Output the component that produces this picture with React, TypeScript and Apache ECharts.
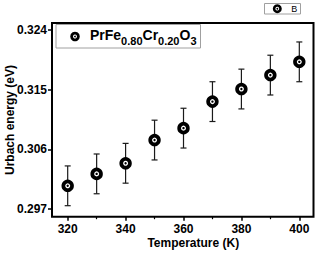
import React, { useEffect, useRef } from "react";
import * as echarts from "echarts";

const temperatures = [320, 330, 340, 350, 360, 370, 380, 390, 400];
const urbachEnergy = [0.3005, 0.3023, 0.3039, 0.3074, 0.3092, 0.3132, 0.3151, 0.3172, 0.3192];
const errorValues = [0.003, 0.003, 0.003, 0.003, 0.003, 0.003, 0.003, 0.003, 0.003];
const yTickValues = [0.297, 0.306, 0.315, 0.324];
const xTickValues = [320, 340, 360, 380, 400];
const xMinorTickValues = [330, 350, 370, 390];
const xAxisTitle = "Temperature (K)";
const yAxisTitle = "Urbach energy (eV)";
const legendParts = [
  ["m", "PrFe"],
  ["s", "0.80"],
  ["m", "Cr"],
  ["s", "0.20"],
  ["m", "O"],
  ["s", "3"],
];
const legend2Label = "B";

const FONT = "'Liberation Sans', Arial, Helvetica, sans-serif";

export default function App() {
  const ref = useRef<HTMLDivElement>(null);

  useEffect(() => {
    if (!ref.current) return;
    const chart = echarts.init(ref.current, null, { renderer: "svg" });

    const xMin = 314.58;
    const xMax = 404.9;
    const yMin = 0.29584;
    const yMax = 0.32506;

    const errData = temperatures.map((t, i) => [
      t,
      urbachEnergy[i] - errorValues[i],
      urbachEnergy[i] + errorValues[i],
    ]);
    const pts = temperatures.map((t, i) => [t, urbachEnergy[i]]);

    const richText = legendParts.map(([k, s]) => `{${k}|${s}}`).join("");

    chart.setOption({
      animation: false,
      backgroundColor: "#fff",
      grid: {
        left: 52,
        top: 23,
        right: 4.5,
        bottom: 36.3,
        show: true,
        borderColor: "#000",
        borderWidth: 2,
        backgroundColor: "transparent",
      },
      xAxis: [
        {
          type: "value",
          min: xMin,
          max: xMax,
          axisLine: { show: false },
          splitLine: { show: false },
          axisTick: {
            show: true,
            customValues: xTickValues,
            length: 4,
            lineStyle: { color: "#000", width: 1.5 },
          },
          axisLabel: {
            customValues: xTickValues,
            fontFamily: FONT,
            fontWeight: "bold",
            fontSize: 12,
            lineHeight: 12,
            color: "#000",
            margin: 6,
          },
        },
        {
          type: "value",
          min: xMin,
          max: xMax,
          position: "bottom",
          axisLine: { show: false },
          splitLine: { show: false },
          axisLabel: { show: false },
          axisTick: {
            show: true,
            customValues: xMinorTickValues,
            length: 2.5,
            lineStyle: { color: "#000", width: 1.2 },
          },
        },
      ],
      yAxis: {
        type: "value",
        min: yMin,
        max: yMax,
        axisLine: { show: false },
        splitLine: { show: false },
        axisTick: {
          show: true,
          customValues: yTickValues,
          length: 4,
          lineStyle: { color: "#000", width: 1.5 },
        },
        axisLabel: {
          customValues: yTickValues,
          formatter: (v: number) => v.toFixed(3),
          fontFamily: FONT,
          fontWeight: "bold",
          fontSize: 12,
          color: "#000",
          margin: 5,
        },
      },
      series: [
        {
          type: "custom",
          xAxisIndex: 0,
          yAxisIndex: 0,
          data: errData,
          encode: { x: 0, y: [1, 2] },
          z: 1,
          renderItem: (params: any, api: any) => {
            const x = api.value(0);
            const pLo = api.coord([x, api.value(1)]);
            const pHi = api.coord([x, api.value(2)]);
            const hw = 3;
            const st = { stroke: "#1a1a1a", lineWidth: 1.2 };
            return {
              type: "group",
              children: [
                { type: "line", shape: { x1: pLo[0], y1: pLo[1], x2: pHi[0], y2: pHi[1] }, style: st },
                { type: "line", shape: { x1: pLo[0] - hw, y1: pLo[1], x2: pLo[0] + hw, y2: pLo[1] }, style: st },
                { type: "line", shape: { x1: pHi[0] - hw, y1: pHi[1], x2: pHi[0] + hw, y2: pHi[1] }, style: st },
              ],
            };
          },
        },
        {
          type: "scatter",
          data: pts,
          symbol: "circle",
          symbolSize: 8.7,
          z: 3,
          itemStyle: { color: "#fff", borderColor: "#000", borderWidth: 3.7, opacity: 1 },
        },
        {
          type: "scatter",
          data: pts,
          symbol: "circle",
          symbolSize: 2.4,
          z: 4,
          itemStyle: { color: "#000", opacity: 1 },
        },
      ],
      graphic: [
        {
          type: "rect",
          shape: { x: 56, y: 24.5, width: 144.5, height: 23.5 },
          style: { fill: "#fff", stroke: "#a0a0a0", lineWidth: 1 },
          z: 10,
        },
        {
          type: "circle",
          shape: { cx: 75, cy: 36.5, r: 3.4 },
          style: { fill: "#fff", stroke: "#000", lineWidth: 2.8 },
          z: 11,
        },
        {
          type: "circle",
          shape: { cx: 75, cy: 36.5, r: 0.9 },
          style: { fill: "#000" },
          z: 12,
        },
        {
          type: "text",
          x: 90,
          y: 34.8,
          z: 12,
          style: {
            text: richText,
            verticalAlign: "middle",
            align: "left",
            rich: {
              m: { fontFamily: FONT, fontWeight: "bold", fontSize: 14, fill: "#000" },
              s: { fontFamily: FONT, fontWeight: "bold", fontSize: 11, fill: "#000", padding: [12, 0, 0, 0] },
            },
          },
        },
        {
          type: "rect",
          shape: { x: 264.5, y: 3.5, width: 36, height: 10.5 },
          style: { fill: "#fff", stroke: "#a0a0a0", lineWidth: 1 },
          z: 10,
        },
        {
          type: "circle",
          shape: { cx: 277.3, cy: 8.7, r: 3.2 },
          style: { fill: "#fff", stroke: "#000", lineWidth: 2.6 },
          z: 11,
        },
        {
          type: "circle",
          shape: { cx: 277.3, cy: 8.7, r: 0.9 },
          style: { fill: "#000" },
          z: 12,
        },
        {
          type: "text",
          x: 291.3,
          y: 9,
          z: 12,
          style: {
            text: legend2Label,
            fontFamily: FONT,
            fontSize: 9,
            fill: "#000",
            verticalAlign: "middle",
            align: "left",
          },
        },
        {
          type: "text",
          x: 193.3,
          y: 243,
          style: {
            text: xAxisTitle,
            fontFamily: FONT,
            fontWeight: "bold",
            fontSize: 12,
            lineHeight: 12,
            fill: "#000",
            align: "center",
            verticalAlign: "middle",
          },
        },
        {
          type: "text",
          x: 9.5,
          y: 120,
          rotation: Math.PI / 2,
          style: {
            text: yAxisTitle,
            fontFamily: FONT,
            fontWeight: "bold",
            fontSize: 12,
            fill: "#000",
            align: "center",
            verticalAlign: "middle",
          },
        },
      ],
    });

    return () => chart.dispose();
  }, []);

  return (
    <div
      ref={ref}
      style={{ position: "fixed", left: 0, top: 0, width: 318, height: 253, background: "#fff" }}
    />
  );
}
